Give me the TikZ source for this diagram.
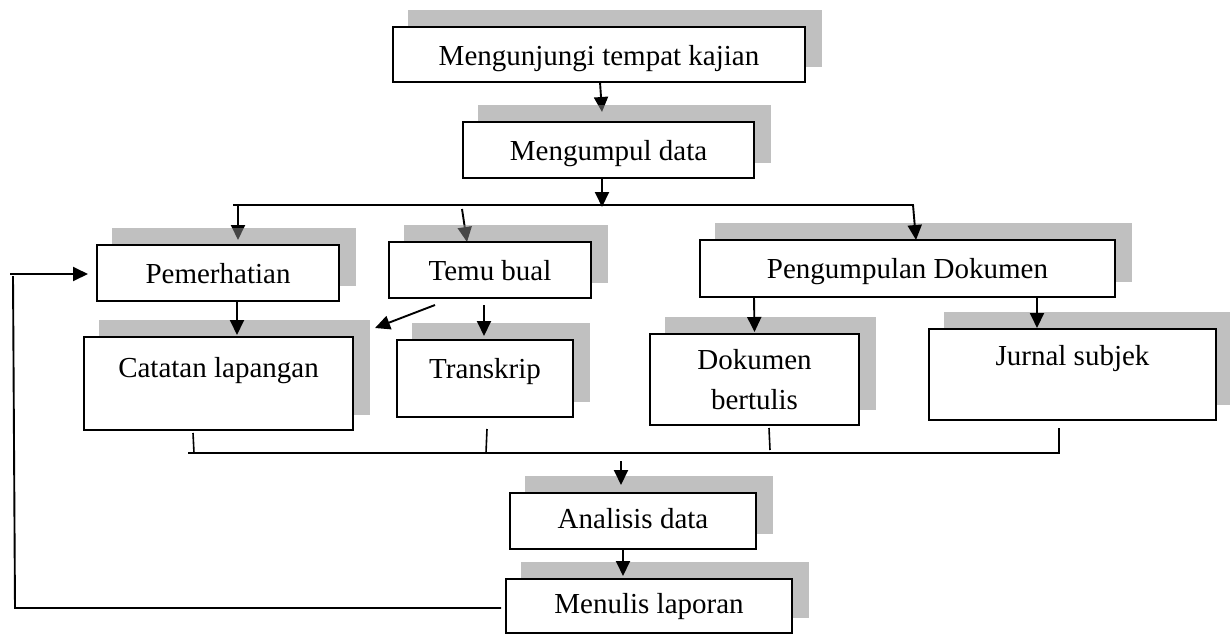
\documentclass[tikz,border=0pt]{standalone}
\usepackage{fontspec}
\setmainfont{Liberation Serif}
\usetikzlibrary{arrows.meta}
\pgfdeclarelayer{under}
\pgfdeclarelayer{shd}
\pgfsetlayers{under,shd,main}
\definecolor{shadowgray}{RGB}{135,135,135}
\tikzset{
  box/.style={draw=black, line width=2.2pt, fill=white, inner sep=0pt, outer sep=0pt, anchor=north},
  conn/.style={line width=1.9pt},
  arr/.style={conn, -{Triangle[length=15pt,width=14pt]}},
  tickline/.style={line width=1.6pt},
  shadowbox/.style={fill=shadowgray, fill opacity=0.52}
}
\begin{document}
\begin{tikzpicture}[x=1pt,y=-1pt,font=\fontsize{29}{40}\selectfont]
\useasboundingbox (0,0) rectangle (1230,635);
% boxes
\node[box, minimum width=412pt, text height=38pt, text depth=17pt] (n1) at (599,27) {Mengunjungi tempat kajian};
\node[box, minimum width=291pt, text height=38pt, text depth=18pt] (n2) at (608.5,122) {Mengumpul data};
\node[box, minimum width=242pt, text height=38pt, text depth=18pt] (n3) at (218,245) {Pemerhatian};
\node[box, minimum width=202pt, text height=38pt, text depth=18pt] (n4) at (490,242) {Temu bual};
\node[box, minimum width=415pt, text height=38pt, text depth=19pt] (n5) at (907.5,240) {Pengumpulan Dokumen};
\node[box, minimum width=269pt, text height=40pt, text depth=53pt] (n6) at (218.5,337) {Catatan lapangan};
\node[box, minimum width=176pt, text height=38pt, text depth=39pt] (n7) at (485,340) {Transkrip};
\node[box, minimum width=209pt, minimum height=91pt, align=center] (n8) at (754.5,334) {Dokumen\\bertulis};
\node[box, minimum width=287pt, text height=36pt, text depth=55pt] (n9) at (1072.5,329) {Jurnal subjek};
\node[box, minimum width=246pt, text height=35pt, text depth=21pt] (n10) at (633,493) {Analisis data};
\node[box, minimum width=286pt, text height=34pt, text depth=20pt] (n11) at (649,579) {Menulis laporan};
% free ends
\coordinate (t1) at (602,112);
\coordinate (t2) at (602,207);
\coordinate (busL) at (233,205);
\coordinate (busR) at (913,205);
\coordinate (s3) at (238,205);
\coordinate (s4) at (462,209);
\coordinate (bl) at (188,453);
\coordinate (br) at (1059,453);
\coordinate (k6) at (194,453);
\coordinate (k7) at (486,453);
\coordinate (k8) at (770,450);
\coordinate (s11) at (621,461);
\coordinate (fb1) at (15,608);
\coordinate (fb2) at (13,276);
\coordinate (fb3) at (10,274);
% background, and arrows lying under the shadows
\begin{pgfonlayer}{under}
\fill[white] (0,0) rectangle (1230,635);
\draw[arr] ([xshift=1pt]n1.south) -- (t1);
\draw[arr] (s3) -- ([xshift=20pt,yshift=5pt]n3.north);
\draw[arr] (s4) -- ([xshift=-23pt]n4.north);
\end{pgfonlayer}
% shadows
\begin{pgfonlayer}{shd}
\foreach \n in {n1,n2,n3,n4,n5,n6,n7,n8,n9,n10,n11}
  \fill[shadowbox] ([xshift=15pt,yshift=17pt]\n.north west) rectangle ([xshift=17pt,yshift=15pt]\n.south east);
\end{pgfonlayer}
% connectors
\draw[arr] ([xshift=-6.5pt]n2.south) -- (t2);
\draw[arr] (busL) -- (busR) -- ([xshift=8.5pt]n5.north);
\draw[arr] ([xshift=19pt]n3.south) -- ([xshift=18.5pt,yshift=2pt]n6.north);
\draw[arr] ([xshift=46pt,yshift=-7pt]n4.south west) -- ([xshift=22pt,yshift=9pt]n6.north east);
\draw[arr] ([xshift=-6pt,yshift=-7pt]n4.south) -- ([xshift=-1pt,yshift=4pt]n7.north);
\draw[arr] ([xshift=-153.5pt]n5.south) -- ([yshift=2pt]n8.north);
\draw[arr] ([xshift=129.5pt]n5.south) -- ([xshift=-35.5pt,yshift=1pt]n9.north);
\draw[tickline] ([xshift=-25.5pt,yshift=-3pt]n6.south) -- (k6);
\draw[tickline] ([xshift=2pt,yshift=-12pt]n7.south) -- (k7);
\draw[tickline] ([xshift=14.5pt,yshift=-3pt]n8.south) -- (k8);
\draw[conn] (bl) -- (br) -- ([xshift=-13.5pt,yshift=-8pt]n9.south);
\draw[arr] (s11) -- ([xshift=-12pt,yshift=8pt]n10.north);
\draw[arr] ([xshift=-10pt]n10.south) -- ([xshift=-26pt,yshift=3pt]n11.north);
\draw[conn] ([xshift=-5pt,yshift=-2pt]n11.west) -- (fb1) -- (fb2);
\draw[arr] (fb3) -- ([xshift=-9pt,yshift=-1pt]n3.west);
\end{tikzpicture}
\end{document}
